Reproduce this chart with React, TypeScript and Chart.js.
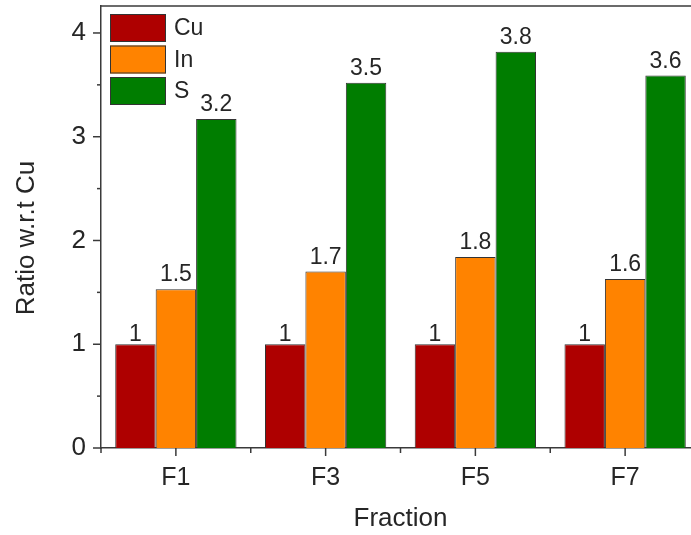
import React, { useEffect, useRef } from 'react';
import { Chart, registerables } from 'chart.js';

Chart.register(...registerables);

const categories = ['F1', 'F3', 'F5', 'F7'];
const seriesNames = ['Cu', 'In', 'S'];
const cuValues = [1, 1, 1, 1];
const inValues = [1.53, 1.7, 1.84, 1.63];
const sValues = [3.17, 3.52, 3.82, 3.59];
const cuLabels = ['1', '1', '1', '1'];
const inLabels = ['1.5', '1.7', '1.8', '1.6'];
const sLabels = ['3.2', '3.5', '3.8', '3.6'];
const yMajorTicks = [0, 1, 2, 3, 4];
const yMinorTicks = [0.5, 1.5, 2.5, 3.5];
const yMin = 0;
const yMax = 4.26;
const yTitle = 'Ratio w.r.t Cu';
const xTitle = 'Fraction';

const FONT = '"Liberation Sans", Arial, Helvetica, sans-serif';
const AXIS = '#3a3a3a';
const TEXT = '#262626';
const colors = ['#AE0000', '#FF8300', '#007D00'];
const labelGap = [3, 8, 8];

const decorPlugin = {
  id: 'decor',
  afterDraw(chart: any) {
    const ctx: CanvasRenderingContext2D = chart.ctx;
    const { left, right, top, bottom } = chart.chartArea;
    const xs = chart.scales.x;
    const ys = chart.scales.y;
    ctx.save();
    ctx.strokeStyle = AXIS;
    ctx.lineWidth = 1.5;
    const line = (x1: number, y1: number, x2: number, y2: number) => {
      ctx.beginPath();
      ctx.moveTo(x1, y1);
      ctx.lineTo(x2, y2);
      ctx.stroke();
    };
    // frame
    line(left, top, right, top);
    line(right, top, right, bottom);
    // y ticks
    yMajorTicks.forEach((v) => {
      const y = ys.getPixelForValue(v);
      line(left - 8, y, left, y);
    });
    yMinorTicks.forEach((v) => {
      const y = ys.getPixelForValue(v);
      line(left - 4, y, left, y);
    });
    // x ticks
    categories.forEach((_, i) => {
      const x = xs.getPixelForValue(i);
      line(x, bottom, x, bottom + 8);
    });
    for (let i = 0; i <= categories.length; i++) {
      const x = xs.getPixelForValue(i - 0.5);
      line(x, bottom, x, bottom + 5);
    }
    // data labels
    const allLabels = [cuLabels, inLabels, sLabels];
    ctx.fillStyle = TEXT;
    ctx.font = `23px ${FONT}`;
    ctx.textAlign = 'center';
    ctx.textBaseline = 'alphabetic';
    chart.data.datasets.forEach((_: any, di: number) => {
      const meta = chart.getDatasetMeta(di);
      meta.data.forEach((bar: any, i: number) => {
        ctx.fillText(allLabels[di][i], bar.x, bar.y - labelGap[di]);
      });
    });
    // legend
    const boxL = left + 9;
    const boxT = top + 8;
    const boxW = 56;
    const boxH = 28;
    const step = 31.5;
    ctx.font = `23px ${FONT}`;
    ctx.textAlign = 'left';
    ctx.textBaseline = 'middle';
    seriesNames.forEach((name, i) => {
      const y = boxT + i * step;
      ctx.fillStyle = colors[i];
      ctx.fillRect(boxL, y, boxW, boxH);
      ctx.lineWidth = 1;
      ctx.strokeStyle = '#333';
      ctx.strokeRect(boxL + 0.5, y + 0.5, boxW - 1, boxH - 1);
      ctx.fillStyle = TEXT;
      ctx.fillText(name, boxL + boxW + 8, y + boxH / 2 + 1);
    });
    // y title
    ctx.save();
    ctx.translate(27, (top + bottom) / 2 + 11);
    ctx.rotate(-Math.PI / 2);
    ctx.font = `26px ${FONT}`;
    ctx.textAlign = 'center';
    ctx.textBaseline = 'middle';
    ctx.fillStyle = TEXT;
    ctx.fillText(yTitle, 0, 0);
    ctx.restore();
    ctx.restore();
  },
};

export default function App() {
  const ref = useRef<HTMLCanvasElement>(null);
  useEffect(() => {
    if (!ref.current) return;
    Chart.defaults.font.family = FONT;
    Chart.defaults.color = TEXT;
    const chart = new Chart(ref.current, {
      type: 'bar',
      data: {
        labels: categories,
        datasets: [
          { label: seriesNames[0], data: cuValues, backgroundColor: colors[0], borderColor: '#333', borderWidth: 1 },
          { label: seriesNames[1], data: inValues, backgroundColor: colors[1], borderColor: '#333', borderWidth: 1 },
          { label: seriesNames[2], data: sValues, backgroundColor: colors[2], borderColor: '#333', borderWidth: 1 },
        ],
      },
      options: {
        responsive: false,
        animation: false,
        layout: { padding: { left: 0, top: 6, right: 5, bottom: 0 } },
        datasets: { bar: { categoryPercentage: 0.81, barPercentage: 1.0 } },
        plugins: { legend: { display: false }, tooltip: { enabled: false } },
        scales: {
          x: {
            offset: true,
            grid: { display: false, drawTicks: false },
            border: { display: true, color: AXIS, width: 1.5 },
            ticks: { font: { size: 25 }, color: TEXT, padding: 15 },
            title: { display: true, text: xTitle, font: { size: 26 }, color: TEXT, padding: { top: 0, bottom: 1 } },
            afterFit: (s: any) => {
              s.height = 87;
            },
          },
          y: {
            min: yMin,
            max: yMax,
            grid: { display: false, drawTicks: false },
            border: { display: true, color: AXIS, width: 1.5 },
            ticks: {
              stepSize: 1,
              includeBounds: false,
              font: { size: 26 },
              color: TEXT,
              padding: 15,
              callback: (v: any) => (Number.isInteger(v) ? String(v) : ''),
            },
            afterFit: (s: any) => {
              s.width = 101;
              s.paddingTop = 0;
              s.paddingBottom = 0;
            },
          },
        },
      },
      plugins: [decorPlugin],
    });
    return () => chart.destroy();
  }, []);
  return (
    <div style={{ position: 'fixed', left: 0, top: 0, width: 691, height: 535, overflow: 'hidden', background: '#fff' }}>
      <canvas ref={ref} width={705} height={535} style={{ display: 'block', width: 705, height: 535 }} />
    </div>
  );
}
